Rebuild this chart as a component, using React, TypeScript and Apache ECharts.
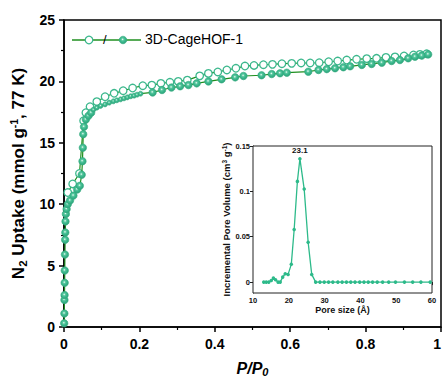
import React, { useEffect, useRef } from "react";
import * as echarts from "echarts";

// Adsorption branch (filled markers): relative pressure P/P0 and N2 uptake (mmol/g)
const adsP = [0.0005, 0.001, 0.0012, 0.0015, 0.0018, 0.002, 0.0025, 0.003, 0.0035, 0.004, 0.005, 0.007, 0.01, 0.016, 0.025, 0.035, 0.042, 0.047, 0.049, 0.05, 0.051, 0.053, 0.058, 0.065, 0.072, 0.078, 0.087, 0.097, 0.109, 0.12, 0.131, 0.14, 0.15, 0.159, 0.168, 0.177, 0.186, 0.194, 0.203, 0.235, 0.26, 0.285, 0.308, 0.33, 0.352, 0.383, 0.418, 0.454, 0.476, 0.524, 0.551, 0.573, 0.591, 0.648, 0.675, 0.697, 0.719, 0.741, 0.759, 0.79, 0.816, 0.843, 0.869, 0.891, 0.913, 0.931, 0.949, 0.966];
const adsN = [0.3, 1.1, 2.2, 2.6, 3.6, 4.6, 5.9, 7.1, 7.7, 8.6, 9.2, 9.6, 10.0, 10.3, 10.7, 11.2, 11.5, 12.4, 13.5, 14.6, 15.7, 16.3, 16.9, 17.2, 17.45, 17.7, 17.86, 18.0, 18.13, 18.27, 18.38, 18.46, 18.54, 18.62, 18.7, 18.79, 18.84, 18.92, 19.0, 19.1, 19.3, 19.5, 19.6, 19.7, 19.84, 20.0, 20.17, 20.33, 20.44, 20.5, 20.6, 20.66, 20.71, 20.79, 20.93, 21.0, 21.07, 21.15, 21.23, 21.34, 21.42, 21.52, 21.66, 21.74, 21.88, 22.01, 22.1, 22.2];

// Desorption branch (open markers)
const desP = [0.962, 0.944, 0.927, 0.902, 0.878, 0.854, 0.829, 0.803, 0.776, 0.75, 0.726, 0.702, 0.677, 0.653, 0.629, 0.604, 0.578, 0.553, 0.529, 0.504, 0.48, 0.456, 0.432, 0.408, 0.383, 0.36, 0.327, 0.303, 0.281, 0.257, 0.233, 0.209, 0.182, 0.157, 0.133, 0.109, 0.087, 0.069, 0.058, 0.052, 0.041, 0.023, 0.01];
const desN = [22.25, 22.2, 22.15, 22.07, 22.0, 21.96, 21.88, 21.85, 21.8, 21.74, 21.66, 21.6, 21.52, 21.5, 21.5, 21.47, 21.44, 21.39, 21.36, 21.3, 21.25, 21.07, 20.93, 20.77, 20.65, 20.45, 20.1, 20.0, 19.93, 19.84, 19.7, 19.65, 19.46, 19.24, 19.03, 18.75, 18.35, 17.94, 17.45, 16.8, 12.5, 11.65, 10.95];

// Inset: pore size distribution
const poreSize = [13.0, 13.7, 14.4, 15.1, 15.7, 16.3, 17.0, 17.6, 18.3, 19.0, 19.8, 20.7, 21.5, 22.4, 23.1, 24.3, 25.4, 26.4, 27.5, 28.7, 29.9, 31.1, 32.3, 33.7, 34.9, 36.1, 37.3, 38.5, 39.8, 41.0, 42.2, 43.4, 44.7, 46.2, 47.9, 49.8, 52.3, 54.6, 56.9, 59.5];
const poreVol = [0, 0, 0, 0.0018, 0.0044, 0.0026, 0, 0, 0.0055, 0.0092, 0.0085, 0.0196, 0.058, 0.111, 0.136, 0.1025, 0.044, 0.0085, 0, 0, 0, 0, 0, 0, 0, 0, 0, 0, 0, 0, 0, 0, 0, 0, 0, 0, 0, 0, 0, 0];

const mainYTicks = [0, 5, 10, 15, 20, 25];
const insetYTicks = [0, 0.05, 0.1, 0.15];
const seriesName = "3D-CageHOF-1";

const FONT = "'Liberation Sans', Arial, sans-serif";
const LINE_GREEN = "#1f8f1f";
const TEAL = "#3cb88d";
const INSET_TEAL = "#2dba8a";

const filledFill = {
  type: "radial",
  x: 0.45,
  y: 0.42,
  r: 0.55,
  colorStops: [
    { offset: 0, color: "#f2fff9" },
    { offset: 0.3, color: "#5cc9a1" },
    { offset: 0.6, color: TEAL },
    { offset: 1, color: "#2fa57c" },
  ],
};

export default function App() {
  const ref = useRef<HTMLDivElement>(null);

  useEffect(() => {
    if (!ref.current) return;
    document.body.style.margin = "0";
    document.body.style.overflow = "hidden";
    const chart = echarts.init(ref.current, undefined, { renderer: "svg" });

    const ads = adsP.map((p, i) => [p, adsN[i]]);
    const des = desP.map((p, i) => [p, desN[i]]);
    const pore = poreSize.map((s, i) => [s, poreVol[i]]);
    let peakIdx = 0;
    poreVol.forEach((v, i) => {
      if (v > poreVol[peakIdx]) peakIdx = i;
    });

    const denseStart = adsP.indexOf(0.078);
    const denseEnd = adsP.indexOf(0.203);

    chart.setOption({
      animation: false,
      backgroundColor: "#fff",
      textStyle: { fontFamily: FONT },
      grid: [
        {
          left: 64,
          top: 20,
          right: 2,
          bottom: 53,
          outerBoundsMode: "none",
          containLabel: false,
          show: true,
          borderColor: "#000",
          borderWidth: 1.5,
          backgroundColor: "transparent",
        },
        {
          left: 253,
          top: 146,
          width: 179,
          height: 147,
          outerBoundsMode: "none",
          containLabel: false,
          show: true,
          borderColor: "#222",
          borderWidth: 1,
          backgroundColor: "#fff",
          z: 5,
        },
      ],
      xAxis: [
        {
          gridIndex: 0,
          type: "value",
          min: 0,
          max: 1,
          interval: 0.2,
          name: "{i|P/P}{s|0}",
          nameLocation: "middle",
          nameGap: 32,
          nameTextStyle: {
            rich: {
              i: { fontFamily: FONT, fontSize: 16, fontWeight: "bold", fontStyle: "italic", color: "#000", lineHeight: 18 },
              s: { fontFamily: FONT, fontSize: 11, fontWeight: "bold", fontStyle: "italic", color: "#000", verticalAlign: "bottom", lineHeight: 12, padding: [7, 0, 0, 0] },
            },
          },
          axisLine: { show: true, lineStyle: { color: "#000", width: 1.5 } },
          axisTick: { show: true, inside: false, length: 5, lineStyle: { color: "#000", width: 1.5 } },
          minorTick: { show: true, splitNumber: 2, length: 3, lineStyle: { color: "#000", width: 1.2 } },
          axisLabel: {
            fontFamily: FONT,
            fontSize: 14,
            fontWeight: "bold",
            color: "#000",
            margin: 10,
            alignMaxLabel: "right",
          },
          splitLine: { show: false },
        },
        {
          gridIndex: 1,
          type: "value",
          min: 10,
          max: 60,
          interval: 10,
          name: "Pore size (Å)",
          nameLocation: "middle",
          nameGap: 12,
          nameTextStyle: { fontFamily: FONT, fontSize: 9, fontWeight: "bold", color: "#111" },
          axisLine: { show: true, lineStyle: { color: "#222", width: 1 } },
          axisTick: { show: true, inside: false, length: 3, lineStyle: { color: "#222", width: 1 } },
          axisLabel: { fontFamily: FONT, fontSize: 7.5, fontWeight: "bold", color: "#111", margin: 3 },
          splitLine: { show: false },
        },
      ],
      yAxis: [
        {
          gridIndex: 0,
          type: "value",
          min: 0,
          max: 25,
          interval: 5,
          name: "{b|N}{s|2}{b| Uptake (mmol g}{p|-1}{b|, 77 K)}",
          nameLocation: "middle",
          nameGap: 34,
          nameTextStyle: {
            rich: {
              b: { fontFamily: FONT, fontSize: 17, fontWeight: "bold", color: "#000", lineHeight: 20 },
              s: { fontFamily: FONT, fontSize: 11.5, fontWeight: "bold", color: "#000", verticalAlign: "bottom", lineHeight: 12, padding: [8, 0, 0, 0] },
              p: { fontFamily: FONT, fontSize: 10.5, fontWeight: "bold", color: "#000", verticalAlign: "top", lineHeight: 12, padding: [0, 0, 6, 0] },
            },
          },
          axisLine: { show: true, lineStyle: { color: "#000", width: 1.5 } },
          axisTick: { show: true, inside: false, length: 5, lineStyle: { color: "#000", width: 1.5 } },
          minorTick: { show: true, splitNumber: 2, length: 3, lineStyle: { color: "#000", width: 1.2 } },
          axisLabel: {
            fontFamily: FONT,
            fontSize: 14,
            fontWeight: "bold",
            color: "#000",
            margin: 9,
            customValues: mainYTicks,
          },
          splitLine: { show: false },
        },
        {
          gridIndex: 1,
          type: "value",
          min: -0.012,
          max: 0.15,
          name: "Incremental Pore Volume (cm{p|3} g{p|-1})",
          nameLocation: "middle",
          nameGap: 18,
          nameTextStyle: {
            fontFamily: FONT,
            fontSize: 9.5,
            fontWeight: "bold",
            color: "#111",
            rich: {
              p: { fontFamily: FONT, fontSize: 6.5, fontWeight: "bold", color: "#111", verticalAlign: "top", padding: [0, 0, 4, 0] },
            },
          },
          axisLine: { show: true, lineStyle: { color: "#222", width: 1 } },
          axisTick: { show: true, inside: false, length: 3, customValues: insetYTicks, lineStyle: { color: "#222", width: 1 } },
          axisLabel: {
            fontFamily: FONT,
            fontSize: 7.5,
            fontWeight: "bold",
            color: "#111",
            margin: 3,
            customValues: insetYTicks,
            formatter: (v: number) => String(Math.round(v * 100) / 100),
          },
          splitLine: { show: false },
        },
      ],
      series: [
        {
          name: seriesName,
          type: "line",
          xAxisIndex: 0,
          yAxisIndex: 0,
          data: des,
          symbol: "circle",
          symbolSize: 7.5,
          showAllSymbol: true,
          lineStyle: { color: LINE_GREEN, width: 1.2 },
          itemStyle: { color: "#fff", borderColor: TEAL, borderWidth: 1.3 },
          z: 3,
        },
        {
          name: seriesName,
          type: "line",
          xAxisIndex: 0,
          yAxisIndex: 0,
          data: ads,
          symbol: "circle",
          symbolSize: (_v: any, p: any) =>
            p && p.dataIndex >= denseStart && p.dataIndex <= denseEnd ? 5 : 7.5,
          showAllSymbol: true,
          lineStyle: { color: LINE_GREEN, width: 1.2 },
          itemStyle: { color: filledFill, borderColor: "#35ad82", borderWidth: 0.6 },
          z: 4,
        },
        {
          name: "PSD",
          type: "line",
          xAxisIndex: 1,
          yAxisIndex: 1,
          data: pore,
          symbol: "circle",
          symbolSize: 3.5,
          showAllSymbol: true,
          lineStyle: { color: INSET_TEAL, width: 1.3 },
          itemStyle: { color: INSET_TEAL },
          label: {
            show: true,
            position: "top",
            distance: 2,
            fontFamily: FONT,
            fontSize: 8,
            fontWeight: "bold",
            color: "#111",
            formatter: (p: any) => (p.dataIndex === peakIdx ? String(p.value[0]) : ""),
          },
          z: 10,
        },
      ],
      graphic: [
        {
          type: "line",
          shape: { x1: 72, y1: 40, x2: 141, y2: 40 },
          style: { stroke: LINE_GREEN, lineWidth: 1.5 },
          z: 20,
        },
        {
          type: "circle",
          shape: { cx: 89, cy: 40, r: 3.8 },
          style: { fill: "#fff", stroke: TEAL, lineWidth: 1.3 },
          z: 21,
        },
        {
          type: "text",
          x: 103,
          y: 33,
          style: { text: "/", fontFamily: FONT, fontSize: 13, fill: "#000" },
          z: 22,
        },
        {
          type: "circle",
          shape: { cx: 123, cy: 40, r: 3.8 },
          style: { fill: filledFill, stroke: "#35ad82", lineWidth: 0.6 },
          z: 21,
        },
        {
          type: "text",
          x: 145,
          y: 32,
          style: { text: seriesName, fontFamily: FONT, fontSize: 14, fill: "#000" },
          z: 22,
        },
      ],
    });

    return () => chart.dispose();
  }, []);

  return (
    <div
      ref={ref}
      style={{ position: "absolute", left: 0, top: 0, width: 443, height: 380, overflow: "hidden" }}
    />
  );
}
